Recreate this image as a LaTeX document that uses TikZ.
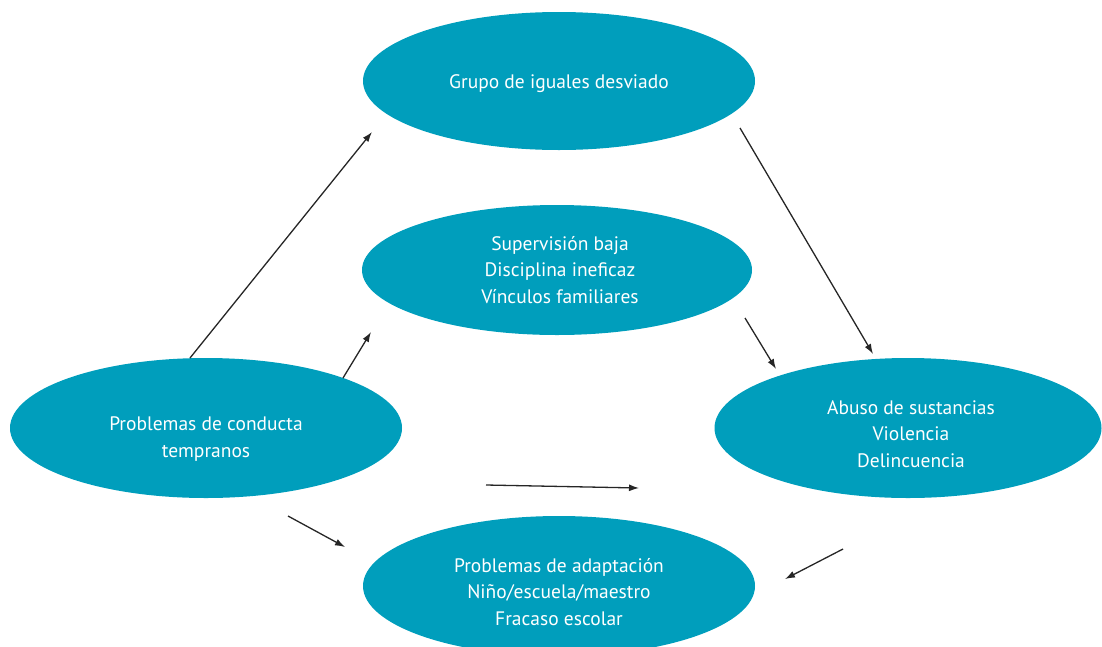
\documentclass[tikz,border=0pt]{standalone}
\usepackage{fontspec}
\setmainfont{PT Sans}
\usetikzlibrary{shapes.geometric,arrows.meta}
\definecolor{teal1}{RGB}{0,158,188}
\tikzset{
  bubble/.style={ellipse, fill=teal1, draw=none, inner sep=0pt},
  txt/.style={text=white, align=center, inner sep=0pt,
    font=\fontsize{19.5}{26.5}\selectfont},
  link/.style={draw=black!85, line width=1.3pt, -{Latex[length=10pt,width=7pt]}}
}
\begin{document}
\begin{tikzpicture}[x=1pt,y=-1pt]
\useasboundingbox (0,0) rectangle (1102,646);
\clip (0,0) rectangle (1102,646);
\node[bubble, minimum width=392pt, minimum height=138pt] (top) at (559,81) {};
\node[bubble, minimum width=390pt, minimum height=130pt] (mid) at (557,270) {};
\node[bubble, minimum width=392pt, minimum height=140pt] (left) at (206,428) {};
\node[bubble, minimum width=387pt, minimum height=140pt] (right) at (908,428) {};
\node[bubble, minimum width=392pt, minimum height=140pt] (bot) at (559,586) {};
\node[txt] (topt) at (559,84) {Grupo de iguales desviado};
\node[txt] (midt) at (560,270) {Supervisión baja\\Disciplina ineficaz\\Vínculos familiares};
\node[txt] (leftt) at (206,439) {Problemas de conducta\\tempranos};
\node[txt] (rightt) at (911,434) {Abuso de sustancias\\Violencia\\Delincuencia};
\node[txt] (bott) at (559,592) {Problemas de adaptación\\Niño/escuela/maestro\\Fracaso escolar};
% connector end points
\coordinate (a1s) at (190,358); \coordinate (a1e) at (372,132);
\coordinate (a2s) at (343,378); \coordinate (a2e) at (371,332);
\coordinate (a3s) at (740,128); \coordinate (a3e) at (873,354);
\coordinate (a4s) at (745,318); \coordinate (a4e) at (776,369);
\coordinate (a5s) at (486,485); \coordinate (a5e) at (639,488);
\coordinate (a6s) at (288,516); \coordinate (a6e) at (345,547);
\coordinate (a7s) at (843,549); \coordinate (a7e) at (785,579);
\draw[link] (a1s) -- (a1e);
\draw[link] (a2s) -- (a2e);
\draw[link] (a3s) -- (a3e);
\draw[link] (a4s) -- (a4e);
\draw[link] (a5s) -- (a5e);
\draw[link] (a6s) -- (a6e);
\draw[link] (a7s) -- (a7e);
\end{tikzpicture}
\end{document}
